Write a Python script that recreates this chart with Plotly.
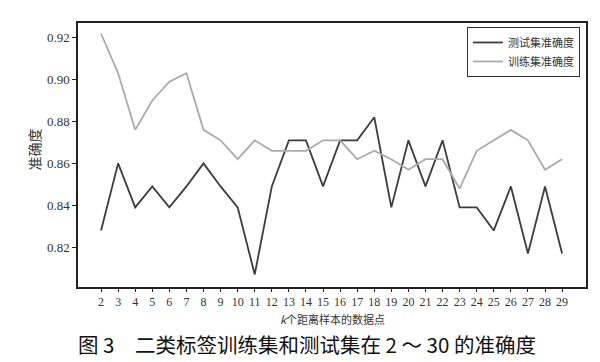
import plotly.graph_objects as go

k_values = list(range(2, 30))
test_acc = [0.828, 0.860, 0.839, 0.849, 0.839, 0.849, 0.860, 0.849, 0.839, 0.807,
            0.849, 0.871, 0.871, 0.849, 0.871, 0.871, 0.882, 0.839, 0.871, 0.849,
            0.871, 0.839, 0.839, 0.828, 0.849, 0.817, 0.849, 0.817]
train_acc = [0.922, 0.903, 0.876, 0.890, 0.899, 0.903, 0.876, 0.871, 0.862, 0.871,
             0.866, 0.866, 0.866, 0.871, 0.871, 0.862, 0.866, 0.862, 0.857, 0.862,
             0.862, 0.848, 0.866, 0.871, 0.876, 0.871, 0.857, 0.862]
y_ticks = [0.82, 0.84, 0.86, 0.88, 0.90, 0.92]

serif = "Liberation Serif, Times New Roman, serif"
cjk = "Noto Sans CJK SC, sans-serif"

fig = go.Figure()
fig.add_trace(go.Scatter(x=k_values, y=test_acc, mode="lines", name="测试集准确度",
                         line=dict(color="#3c3c3c", width=1.8)))
fig.add_trace(go.Scatter(x=k_values, y=train_acc, mode="lines", name="训练集准确度",
                         line=dict(color="#aaaaaa", width=1.8)))

fig.update_layout(
    width=592, height=354,
    margin=dict(l=70, r=14, t=15, b=75),
    paper_bgcolor="white", plot_bgcolor="white",
    showlegend=True,
    legend=dict(x=0.988, y=0.985, xanchor="right", yanchor="top",
                bordercolor="#333333", borderwidth=1, bgcolor="white",
                font=dict(family=cjk, size=11, color="#333333"),
                tracegroupgap=0, itemwidth=30),
    xaxis=dict(range=[0.65, 30.4], tickmode="array", tickvals=k_values,
               ticktext=[str(v) for v in k_values],
               showline=True, linecolor="#222222", linewidth=1.5, mirror=True,
               ticks="outside", ticklen=3, tickcolor="#222222", showgrid=False,
               zeroline=False, tickfont=dict(family=serif, size=12, color="#333333")),
    yaxis=dict(range=[0.801, 0.927], tickmode="array", tickvals=y_ticks,
               ticktext=[f"{v:.2f}" for v in y_ticks],
               showline=True, linecolor="#222222", linewidth=1.5, mirror=True,
               ticks="outside", ticklen=4, tickcolor="#222222", showgrid=False,
               zeroline=False, tickfont=dict(family=serif, size=13, color="#333333")),
    annotations=[
        dict(text="<i>k</i>个距离样本的数据点", xref="paper", yref="paper",
             x=0.5, y=-0.122, xanchor="center", yanchor="middle", showarrow=False,
             font=dict(family=cjk, size=11, color="#333333")),
        dict(text="准确度", xref="paper", yref="paper", textangle=-90,
             x=-0.087, y=0.52, xanchor="center", yanchor="middle", showarrow=False,
             font=dict(family=cjk, size=14, color="#333333")),
        dict(text="图 3　二类标签训练集和测试集在 2 ～ 30 的准确度", xref="paper", yref="paper",
             x=0.451, y=-0.215, xanchor="center", yanchor="middle", showarrow=False,
             font=dict(family=cjk, size=20.5, color="#111111")),
    ],
)

fig.write_html("out.html")
